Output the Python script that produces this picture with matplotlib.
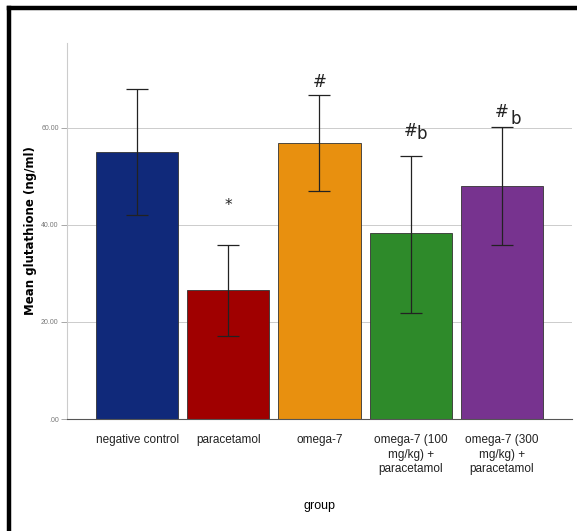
import matplotlib
matplotlib.use("Agg")
import matplotlib.pyplot as plt
from matplotlib import font_manager

groups = ["negative control", "paracetamol", "omega-7",
          "omega-7 (100\nmg/kg) +\nparacetamol", "omega-7 (300\nmg/kg) +\nparacetamol"]
means = [55.05, 26.6, 56.9, 38.35, 48.05]
upper = [68.05, 35.9, 66.8, 54.25, 60.2]
lower = [42.05, 17.1, 47.0, 21.85, 35.9]
colors = ["#10297a", "#a00000", "#e8900f", "#2e8a2a", "#77338f"]
yticks = [0, 20, 40, 60]
ytick_labels = [".00", "20.00", "40.00", "60.00"]

names = {f.name for f in font_manager.fontManager.ttflist}
narrow = "Liberation Sans Narrow" if "Liberation Sans Narrow" in names else "Liberation Sans"

fig = plt.figure(figsize=(5.77, 5.31), dpi=100)
ax = fig.add_axes([0.1161, 0.2109, 0.8752, 0.7081])

x = list(range(len(groups)))
ax.bar(x, means, width=0.9, color=colors, edgecolor="#333333", linewidth=0.6, zorder=2)
err = [[m - l for m, l in zip(means, lower)], [u - m for u, m in zip(upper, means)]]
ax.errorbar(x, means, yerr=err, fmt="none", ecolor="#222222", elinewidth=0.9,
            capsize=8, capthick=0.9, zorder=3)

# significance marks
ax.text(1, 44, "*", ha="center", va="center", fontsize=11, color="#222222")
ax.text(2, 69.5, "#", ha="center", va="center", fontsize=12, color="#222222")
ax.text(3, 59.3, "#", ha="center", va="center", fontsize=12, color="#222222")
ax.text(3.12, 58.8, "b", ha="center", va="center", fontsize=12, color="#222222")
ax.text(4, 63.2, "#", ha="center", va="center", fontsize=12, color="#222222")
ax.text(4.15, 61.8, "b", ha="center", va="center", fontsize=12, color="#222222")

ax.set_xlim(-0.77, 4.77)
ax.set_ylim(0, 77.5)
ax.set_yticks(yticks)
ax.set_yticklabels(ytick_labels, fontsize=5, color="#777777", family=narrow)
ax.set_xticks(x)
ax.set_xticklabels(groups, fontsize=8.5, family=narrow, color="#222222", linespacing=1.25)
ax.tick_params(axis="x", length=0, pad=11)
ax.tick_params(axis="y", length=4, width=0.6, color="#999999", pad=2)
ax.yaxis.grid(True, color="#cccccc", linewidth=0.7, zorder=0)
ax.set_axisbelow(True)
for s in ["top", "right"]:
    ax.spines[s].set_visible(False)
ax.spines["left"].set_color("#cccccc")
ax.spines["bottom"].set_color("#555555")
ax.spines["bottom"].set_linewidth(0.8)

ax.set_ylabel("Mean glutathione (ng/ml)", fontsize=8.5, fontweight="bold", labelpad=3)
ax.set_xlabel("group", fontsize=9, family=narrow, labelpad=18)

# black frame on top and left
fig.add_artist(plt.Line2D([0.0154, 1.0], [0.984, 0.984], color="black", linewidth=3.2, transform=fig.transFigure))
fig.add_artist(plt.Line2D([0.0154, 0.0154], [0.0, 0.984], color="black", linewidth=3.2, transform=fig.transFigure))

fig.savefig("out.png", dpi=100)
